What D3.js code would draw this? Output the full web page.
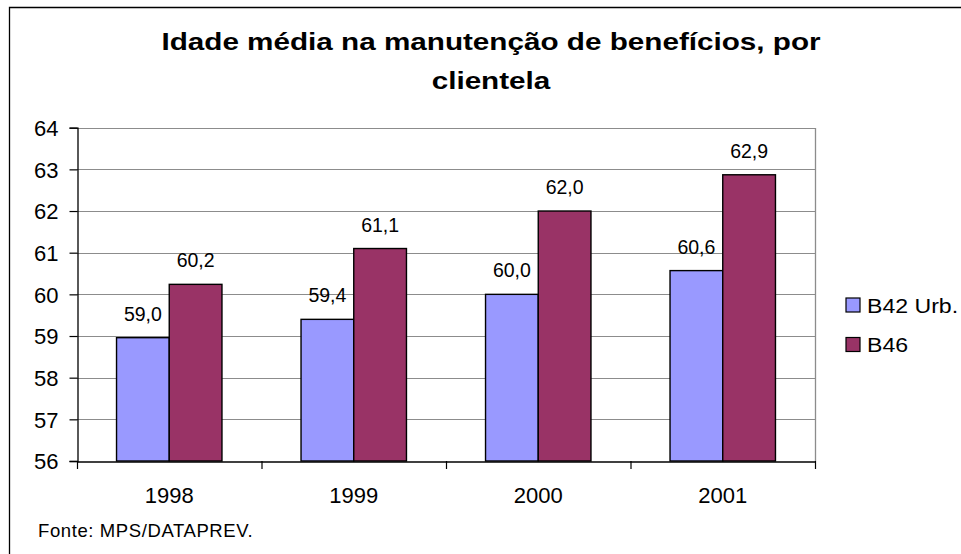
<!DOCTYPE html>
<html><head><meta charset="utf-8">
<script src="https://cdn.jsdelivr.net/npm/d3@7"></script>
<style>
html,body{margin:0;padding:0;background:#fff;}
svg{display:block;font-family:"Liberation Sans",Arial,Helvetica,sans-serif;}
</style></head>
<body><svg id="chart" width="961" height="554"></svg>
<script>
const titleLines = ["Idade média na manutenção de benefícios, por", "clientela"];
const categories = ["1998", "1999", "2000", "2001"];
const seriesNames = ["B42 Urb.", "B46"];
const seriesColors = ["#9999FF", "#993366"];
const b42Values = [58.96, 59.4, 60.0, 60.57];
const b46Values = [60.24, 61.1, 62.0, 62.87];
const yTicks = [56, 57, 58, 59, 60, 61, 62, 63, 64];
const sourceText = "Fonte: MPS/DATAPREV.";

const svg = d3.select("#chart");
const W = 961, H = 554;
const plot = {left: 77, right: 815, top: 127.7, bottom: 461};

svg.append("rect").attr("width", W).attr("height", H).attr("fill", "#fff");
// outer frame (top & left visible)
svg.append("path").attr("d", `M9.5,${H} V7.5 H${W}`).attr("fill", "none").attr("stroke", "#000").attr("stroke-width", 1.3);

// title
const tg = svg.append("g");
titleLines.forEach((t, i) => {
  tg.append("text")
    .attr("transform", `translate(491,${50 + i * 39}) scale(1.29,1)`)
    .attr("text-anchor", "middle")
    .attr("font-size", 23).attr("font-weight", "bold").attr("fill", "#000")
    .text(t);
});

const x = d3.scaleBand().domain(categories).range([plot.left, plot.right]).padding(0);
const y = d3.scaleLinear().domain([56, 64]).range([plot.bottom, plot.top]);
const barW = x.bandwidth() / 3.5;
const xs = d3.scaleBand().domain(seriesNames).range([0.75 * barW, 2.75 * barW]).padding(0);

// gridlines
svg.append("g").selectAll("line").data(yTicks.filter(d => d > 56)).join("line")
  .attr("x1", plot.left).attr("x2", plot.right)
  .attr("y1", d => Math.round(y(d)) + 0.5).attr("y2", d => Math.round(y(d)) + 0.5)
  .attr("stroke", "#8c8c8c").attr("stroke-width", 1);
// right border of plot
svg.append("line").attr("x1", plot.right + 0.5).attr("x2", plot.right + 0.5)
  .attr("y1", Math.round(plot.top)).attr("y2", plot.bottom)
  .attr("stroke", "#8c8c8c").attr("stroke-width", 1.3);

// bars
const rows = categories.map((c, i) => ({cat: c, vals: [b42Values[i], b46Values[i]]}));
const groups = svg.append("g").selectAll("g").data(rows).join("g")
  .attr("transform", d => `translate(${x(d.cat)},0)`);
groups.selectAll("rect").data(d => d.vals.map((v, j) => ({v, s: seriesNames[j], j}))).join("rect")
  .attr("x", d => xs(d.s)).attr("width", xs.bandwidth())
  .attr("y", d => y(d.v)).attr("height", d => plot.bottom - y(d.v))
  .attr("fill", d => seriesColors[d.j]).attr("stroke", "#000").attr("stroke-width", 1.4);
const fmt = v => d3.format(".1f")(v).replace(".", ",");
groups.selectAll("text").data(d => d.vals.map((v, j) => ({v, s: seriesNames[j]}))).join("text")
  .attr("x", d => xs(d.s) + xs.bandwidth() / 2)
  .attr("y", d => y(d.v) - 17)
  .attr("text-anchor", "middle").attr("font-size", 19.5).attr("fill", "#000")
  .text(d => fmt(d.v));

// y axis
const yAxis = svg.append("g").attr("transform", `translate(${plot.left + 0.5},0)`)
  .call(d3.axisLeft(y).tickValues(yTicks).tickSize(8).tickPadding(11).tickFormat(d3.format("d")));
yAxis.select(".domain").attr("stroke", "#000").attr("stroke-width", 1.3);
yAxis.selectAll(".tick line").attr("stroke", "#000").attr("stroke-width", 1.2);
yAxis.selectAll(".tick text").attr("font-size", 22).attr("fill", "#000")
  .attr("font-family", "Liberation Sans, Arial, sans-serif").attr("dy", "0.36em");

// x axis
const xAxis = svg.append("g").attr("transform", `translate(0,${plot.bottom + 0.5})`)
  .call(d3.axisBottom(x).tickSize(0).tickPadding(26));
xAxis.select(".domain").attr("stroke", "#000").attr("stroke-width", 1.3);
xAxis.selectAll(".tick text").attr("font-size", 22).attr("fill", "#000")
  .attr("font-family", "Liberation Sans, Arial, sans-serif").attr("dy", "0.71em");
// category boundary ticks
const bounds = categories.map(c => x(c)).concat([plot.right]);
svg.append("g").selectAll("line").data(bounds).join("line")
  .attr("x1", d => d + 0.5).attr("x2", d => d + 0.5)
  .attr("y1", plot.bottom).attr("y2", plot.bottom + 8)
  .attr("stroke", "#000").attr("stroke-width", 1.2);

// legend
const lg = svg.append("g").attr("transform", "translate(846,298)");
seriesNames.forEach((s, i) => {
  lg.append("rect").attr("x", 0).attr("y", i * 39.5).attr("width", 14).attr("height", 14)
    .attr("fill", seriesColors[i]).attr("stroke", "#000").attr("stroke-width", 1.2);
  lg.append("text").attr("transform", `translate(21,${i * 39.5 + 14.5}) scale(1.1,1)`)
    .attr("font-size", 21).attr("fill", "#000").text(s);
});

// source
svg.append("text").attr("x", 38).attr("y", 537).attr("font-size", 18.5).attr("fill", "#000")
  .attr("letter-spacing", 0.6)
  .text(sourceText);
</script></body></html>
